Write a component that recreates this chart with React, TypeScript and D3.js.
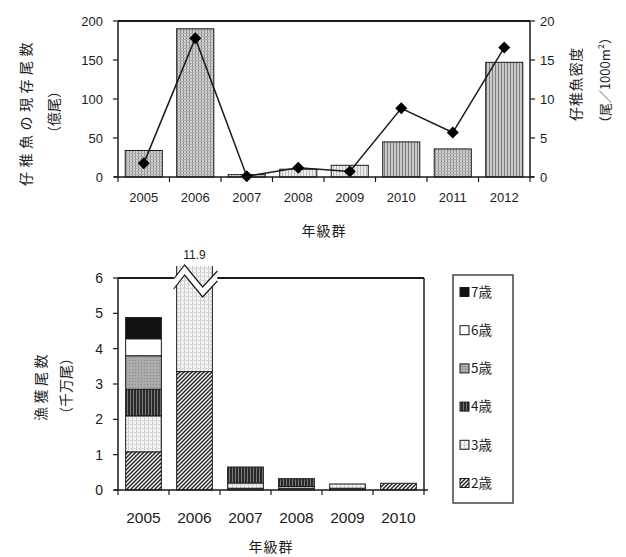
import React from 'react';
import * as d3 from 'd3';

// ---------- Top chart data ----------
const years1 = ['2005', '2006', '2007', '2008', '2009', '2010', '2011', '2012'];
const abundance = [34, 190, 3, 10, 15, 45, 36, 147]; // 億尾 (left axis)
const density = [1.75, 17.8, 0.1, 1.2, 0.7, 8.8, 5.7, 16.6]; // 尾/1000m2 (right axis)
const leftTicks = [0, 50, 100, 150, 200];
const rightTicks = [0, 5, 10, 15, 20];

// ---------- Bottom chart data ----------
const years2 = ['2005', '2006', '2007', '2008', '2009', '2010'];
const ages = ['2歳', '3歳', '4歳', '5歳', '6歳', '7歳'];
const age2 = [1.08, 3.35, 0.05, 0.05, 0.05, 0.19];
const age3 = [1.02, 8.55, 0.15, 0.05, 0.12, 0.0];
const age4 = [0.75, 0, 0.45, 0.22, 0, 0];
const age5 = [0.95, 0, 0, 0, 0, 0];
const age6 = [0.48, 0, 0, 0, 0, 0];
const age7 = [0.6, 0, 0, 0, 0, 0];
const bottomTicks = [0, 1, 2, 3, 4, 5, 6];
const brokenLabel = '11.9';

const NUM = '"Liberation Sans", Arial, sans-serif';
const JP = '"Noto Sans CJK JP", "Noto Sans CJK SC", sans-serif';
const INK = '#1a1a1a';
const TXT = '#1c1c1c';

const topBarFill = ['url(#grid)', 'url(#grid)', 'url(#light)', 'url(#light)', 'url(#light)', 'url(#vstripe)', 'url(#grid)', 'url(#vstripe)'];
const ageFill: Record<string, string> = {
  '2歳': 'url(#hatch)',
  '3歳': 'url(#dots)',
  '4歳': 'url(#dark)',
  '5歳': 'url(#gray)',
  '6歳': '#ffffff',
  '7歳': '#111111',
};

export default function App() {
  // ---- top scales
  const x1 = d3.scaleBand<string>().domain(years1).range([118, 530]).paddingInner(0.28).paddingOuter(0.14);
  const yL = d3.scaleLinear().domain([0, 200]).range([177, 21]);
  const yR = d3.scaleLinear().domain([0, 20]).range([177, 21]);
  const step1 = x1.step();
  const line = d3
    .line<number>()
    .x((_, i) => (x1(years1[i]) as number) + x1.bandwidth() / 2)
    .y((d) => yR(d));

  // ---- bottom scales
  const x2 = d3.scaleBand<string>().domain(years2).range([118, 424]).paddingInner(0.3).paddingOuter(0.15);
  const y2 = d3.scaleLinear().domain([0, 6]).range([490, 278]);
  const step2 = x2.step();
  const rows = years2.map((y, i) => ({
    year: y,
    '2歳': age2[i],
    '3歳': age3[i],
    '4歳': age4[i],
    '5歳': age5[i],
    '6歳': age6[i],
    '7歳': age7[i],
  }));
  const stacked = d3.stack<any>().keys(ages)(rows);

  const legendOrder = [...ages].reverse();
  const cx2006 = (x2('2006') as number) + x2.bandwidth() / 2;

  const bx0 = (x2('2006') as number) - 3;
  const bx1 = (x2('2006') as number) + x2.bandwidth() + 5;
  const zig = (dy: number) =>
    [
      [bx0, 279 + dy],
      [bx0 + 11, 265 + dy],
      [bx0 + 29, 287 + dy],
      [bx1, 271 + dy],
    ] as [number, number][];
  const upper = zig(0);
  const lower = zig(10);
  const breakPoly = [...upper, ...[...lower].reverse()];

  return (
    <svg width={626} height={557} style={{ position: 'absolute', left: 0, top: 0, background: '#fff' }}>
      <defs>
        <pattern id="vstripe" width={3} height={3} patternUnits="userSpaceOnUse">
          <rect width={3} height={3} fill="#c8c8c8" />
          <rect x={0} width={1} height={3} fill="#808080" />
        </pattern>
        <pattern id="grid" width={3} height={3} patternUnits="userSpaceOnUse">
          <rect width={3} height={3} fill="#d0d0d0" />
          <rect x={0} width={1} height={3} fill="#8c8c8c" />
          <rect y={0} width={3} height={1} fill="#b0b0b0" />
        </pattern>
        <pattern id="light" width={3} height={3} patternUnits="userSpaceOnUse">
          <rect width={3} height={3} fill="#ececec" />
          <rect x={0} width={1} height={3} fill="#bcbcbc" />
        </pattern>
        <pattern id="hatch" width={4} height={4} patternUnits="userSpaceOnUse">
          <rect width={4} height={4} fill="#ffffff" />
          <path d="M0,4 L4,0 M-1,1 L1,-1 M3,5 L5,3" stroke="#222" strokeWidth={1.3} />
          <path d="M0,0 L4,4" stroke="#777" strokeWidth={0.7} />
        </pattern>
        <pattern id="dots" width={4} height={4} patternUnits="userSpaceOnUse">
          <rect width={4} height={4} fill="#f4f4f4" />
          <rect x={0} width={1} height={4} fill="#cccccc" />
          <rect y={0} width={4} height={1} fill="#d8d8d8" />
        </pattern>
        <pattern id="dark" width={3} height={3} patternUnits="userSpaceOnUse">
          <rect width={3} height={3} fill="#2a2a2a" />
          <rect x={1} width={1} height={3} fill="#7a7a7a" />
        </pattern>
        <pattern id="gray" width={3} height={3} patternUnits="userSpaceOnUse">
          <rect width={3} height={3} fill="#ababab" />
          <rect x={0} y={0} width={1} height={1} fill="#8a8a8a" />
        </pattern>
        <clipPath id="clipBottom">
          <rect x={100} y={266} width={340} height={230} />
        </clipPath>
      </defs>

      {/* ================= TOP CHART ================= */}
      {abundance.map((v, i) => (
        <rect
          key={years1[i]}
          x={x1(years1[i])}
          y={yL(v)}
          width={x1.bandwidth()}
          height={yL(0) - yL(v)}
          fill={topBarFill[i]}
          stroke={INK}
          strokeWidth={1}
        />
      ))}
      <path d={line(density) || ''} fill="none" stroke={INK} strokeWidth={1.5} />
      {density.map((d, i) => {
        const cx = (x1(years1[i]) as number) + x1.bandwidth() / 2;
        const cy = yR(d);
        const r = 6;
        return <path key={i} d={`M${cx},${cy - r}L${cx + r},${cy}L${cx},${cy + r}L${cx - r},${cy}Z`} fill="#000" />;
      })}
      {/* frame */}
      <line x1={118} x2={530} y1={21} y2={21} stroke={INK} strokeWidth={2} />
      <line x1={118} x2={118} y1={21} y2={177} stroke={INK} strokeWidth={1.5} />
      <line x1={530} x2={530} y1={21} y2={177} stroke={INK} strokeWidth={1.5} />
      <line x1={114} x2={534} y1={177} y2={177} stroke={INK} strokeWidth={1.5} />
      {leftTicks.map((t) => (
        <g key={'l' + t}>
          <line x1={113} x2={118} y1={yL(t)} y2={yL(t)} stroke={INK} strokeWidth={1.2} />
          <text x={103} y={yL(t)} dy="0.35em" textAnchor="end" fontFamily={NUM} fontSize={13} fill={TXT}>
            {t}
          </text>
        </g>
      ))}
      {rightTicks.map((t) => (
        <g key={'r' + t}>
          <line x1={530} x2={535} y1={yR(t)} y2={yR(t)} stroke={INK} strokeWidth={1.2} />
          <text x={540} y={yR(t)} dy="0.35em" textAnchor="start" fontFamily={NUM} fontSize={13} fill={TXT}>
            {t}
          </text>
        </g>
      ))}
      {d3.range(years1.length + 1).map((i) => {
        const xx = 118 + i * step1;
        return <line key={'bt' + i} x1={xx} x2={xx} y1={177} y2={182} stroke={INK} strokeWidth={1.2} />;
      })}
      {years1.map((y) => (
        <text
          key={'yl' + y}
          x={(x1(y) as number) + x1.bandwidth() / 2}
          y={202}
          textAnchor="middle"
          fontFamily={NUM}
          fontSize={13}
          fill={TXT}
        >
          {y}
        </text>
      ))}
      <text x={324} y={236} textAnchor="middle" fontFamily={JP} fontSize={14} letterSpacing={1} fill={TXT}>
        年級群
      </text>
      <text
        transform="translate(25,112) rotate(-90)"
        textAnchor="middle"
        dominantBaseline="central"
        fontFamily={JP}
        fontSize={14}
        letterSpacing={4.5}
        fill={TXT}
      >
        仔稚魚の現存尾数
      </text>
      <text
        transform="translate(53,112) rotate(-90)"
        textAnchor="middle"
        dominantBaseline="central"
        fontFamily={JP}
        fontSize={14}
        fill={TXT}
      >
        （億尾）
      </text>
      <text
        transform="translate(575,84) rotate(-90)"
        textAnchor="middle"
        dominantBaseline="central"
        fontFamily={JP}
        fontSize={14}
        letterSpacing={0.8}
        fill={TXT}
      >
        仔稚魚密度
      </text>
      <text
        transform="translate(604,80) rotate(-90)"
        textAnchor="middle"
        dominantBaseline="central"
        fontFamily={JP}
        fontSize={13}
        fill={TXT}
      >
        （尾／1000m²）
      </text>

      {/* ================= BOTTOM CHART ================= */}
      <g clipPath="url(#clipBottom)">
        {stacked.map((s) =>
          s.map((d, i) =>
            d[1] - d[0] > 0 ? (
              <rect
                key={s.key + i}
                x={x2(years2[i])}
                y={y2(d[1])}
                width={x2.bandwidth()}
                height={y2(d[0]) - y2(d[1])}
                fill={ageFill[s.key]}
                stroke={INK}
                strokeWidth={1}
              />
            ) : null
          )
        )}
      </g>
      {/* frame */}
      <line x1={118} x2={bx0} y1={278} y2={278} stroke={INK} strokeWidth={2} />
      <line x1={bx1 - 3} x2={424} y1={278} y2={278} stroke={INK} strokeWidth={2} />
      <line x1={118} x2={118} y1={278} y2={490} stroke={INK} strokeWidth={1.5} />
      <line x1={424} x2={424} y1={278} y2={490} stroke={INK} strokeWidth={1.5} />
      <line x1={114} x2={428} y1={490} y2={490} stroke={INK} strokeWidth={1.5} />
      {/* break symbol */}
      <polygon points={breakPoly.map((p) => p.join(',')).join(' ')} fill="#fff" stroke="none" />
      <polyline points={upper.map((p) => p.join(',')).join(' ')} fill="none" stroke={INK} strokeWidth={1.2} />
      <polyline points={lower.map((p) => p.join(',')).join(' ')} fill="none" stroke={INK} strokeWidth={1.2} />
      <text x={cx2006} y={259} textAnchor="middle" fontFamily={NUM} fontSize={12} fill={TXT}>
        {brokenLabel}
      </text>
      {bottomTicks.map((t) => (
        <g key={'b' + t}>
          <line x1={113} x2={118} y1={y2(t)} y2={y2(t)} stroke={INK} strokeWidth={1.2} />
          <text x={103} y={y2(t)} dy="0.35em" textAnchor="end" fontFamily={NUM} fontSize={14} fill={TXT}>
            {t}
          </text>
        </g>
      ))}
      {d3.range(years2.length + 1).map((i) => {
        const xx = 118 + i * step2;
        return <line key={'bt2' + i} x1={xx} x2={xx} y1={490} y2={495} stroke={INK} strokeWidth={1.2} />;
      })}
      {years2.map((y) => (
        <text
          key={'yl2' + y}
          x={(x2(y) as number) + x2.bandwidth() / 2}
          y={523}
          textAnchor="middle"
          fontFamily={NUM}
          fontSize={15.5}
          fill={TXT}
        >
          {y}
        </text>
      ))}
      <text x={271} y={552} textAnchor="middle" fontFamily={JP} fontSize={14} letterSpacing={1} fill={TXT}>
        年級群
      </text>
      <text
        transform="translate(40,386) rotate(-90)"
        textAnchor="middle"
        dominantBaseline="central"
        fontFamily={JP}
        fontSize={14}
        letterSpacing={3.5}
        fill={TXT}
      >
        漁獲尾数
      </text>
      <text
        transform="translate(65,386) rotate(-90)"
        textAnchor="middle"
        dominantBaseline="central"
        fontFamily={JP}
        fontSize={14}
        fill={TXT}
      >
        （千万尾）
      </text>

      {/* legend */}
      <rect x={453} y={275} width={60} height={228} fill="#fff" stroke="#444" strokeWidth={1.5} />
      {legendOrder.map((a, i) => {
        const cy = 292 + i * 38.2;
        return (
          <g key={'lg' + a}>
            <rect x={460} y={cy - 4.5} width={9} height={9} fill={ageFill[a]} stroke={INK} strokeWidth={1} />
            <text x={471} y={cy} dy="0.36em" fontFamily={JP} fontSize={13.5} fill={TXT}>
              {a}
            </text>
          </g>
        );
      })}
    </svg>
  );
}
